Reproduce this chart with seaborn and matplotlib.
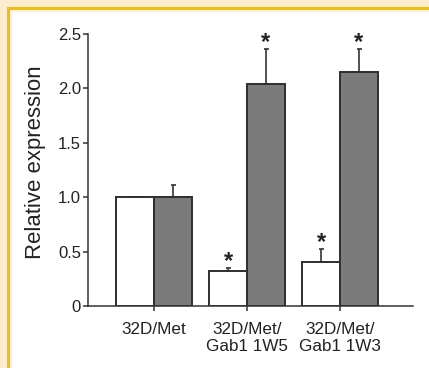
import pandas as pd
import numpy as np
import matplotlib
matplotlib.use("Agg")
import matplotlib.pyplot as plt
from matplotlib.patches import Rectangle
import seaborn as sns

# data
groups = ["32D/Met", "32D/Met/\nGab1 1W5", "32D/Met/\nGab1 1W3"]
conditions = ["A", "B"]
white_vals = [1.0, 0.325, 0.40]
gray_vals = [1.0, 2.04, 2.15]
white_err = [0.005, 0.02, 0.125]
gray_err = [0.11, 0.32, 0.21]
white_star = [False, True, True]
gray_star = [False, True, True]

df = pd.DataFrame({
    "group": groups * 2,
    "cond": [conditions[0]] * 3 + [conditions[1]] * 3,
    "value": white_vals + gray_vals,
})

sns.set_style("ticks")
plt.rcParams["font.family"] = ["Liberation Sans", "DejaVu Sans"]

W, H = 429, 368
fig = plt.figure(figsize=(W / 100, H / 100), dpi=100)
fig.patch.set_facecolor("#fcebcd")
# yellow frame + white panel (behind the axes)
fig.patches.append(Rectangle((6.5 / W, 0), 1, 1 - 6.5 / H, transform=fig.transFigure,
                             facecolor="#f0bd15", edgecolor="none", zorder=-3))
fig.patches.append(Rectangle((10 / W, 0), 1, 1 - 10 / H, transform=fig.transFigure,
                             facecolor="#fdf3dc", edgecolor="none", zorder=-2))
fig.patches.append(Rectangle((12 / W, 0), 1, 1 - 12 / H, transform=fig.transFigure,
                             facecolor="white", edgecolor="none", zorder=-1))

ax = fig.add_axes([88 / W, 62 / H, 325 / W, 272 / H])
ax.set_facecolor("none")

sns.barplot(data=df, x="group", y="value", hue="cond", order=groups,
            hue_order=conditions, palette=["white", "#7b7b7b"],
            edgecolor="#2e2e2e", linewidth=1.4, width=0.81,
            errorbar=None, legend=False, ax=ax, zorder=2)

errs = [white_err, gray_err]
stars = [white_star, gray_star]
for cont, err, star in zip(ax.containers, errs, stars):
    xs = [p.get_x() + p.get_width() / 2 for p in cont]
    hs = [p.get_height() for p in cont]
    ax.errorbar(xs, hs, yerr=[np.zeros(len(err)), err], fmt="none",
                ecolor="#333333", elinewidth=1.2, capsize=1.8, capthick=1.2,
                zorder=1)
    for x, h, e, s in zip(xs, hs, err, star):
        if s:
            ax.annotate("*", (x, h + e), xytext=(0, -3.5), textcoords="offset points",
                        ha="center", va="bottom", fontsize=17, fontweight="bold",
                        color="#222222")

ax.set_ylim(0, 2.5)
ax.set_xlim(-0.71, 2.785)
ax.set_yticks([0, 0.5, 1.0, 1.5, 2.0, 2.5])
ax.set_yticklabels(["0", "0.5", "1.0", "1.5", "2.0", "2.5"])
ax.set_xlabel("")
ax.set_ylabel("Relative expression", fontsize=15.9, color="#222222")
ax.yaxis.set_label_coords(-0.129, 0.53)
sns.despine(ax=ax)
for sp in ["left", "bottom"]:
    ax.spines[sp].set_color("#333333")
    ax.spines[sp].set_linewidth(1.1)
ax.tick_params(axis="y", length=3.5, width=1.1, color="#333333", pad=1.5,
               labelsize=12, labelcolor="#222222")
ax.tick_params(axis="x", length=3.5, width=1.1, color="#333333", pad=8,
               labelsize=12.3, labelcolor="#222222")

fig.savefig("out.png", dpi=100, facecolor=fig.get_facecolor())
